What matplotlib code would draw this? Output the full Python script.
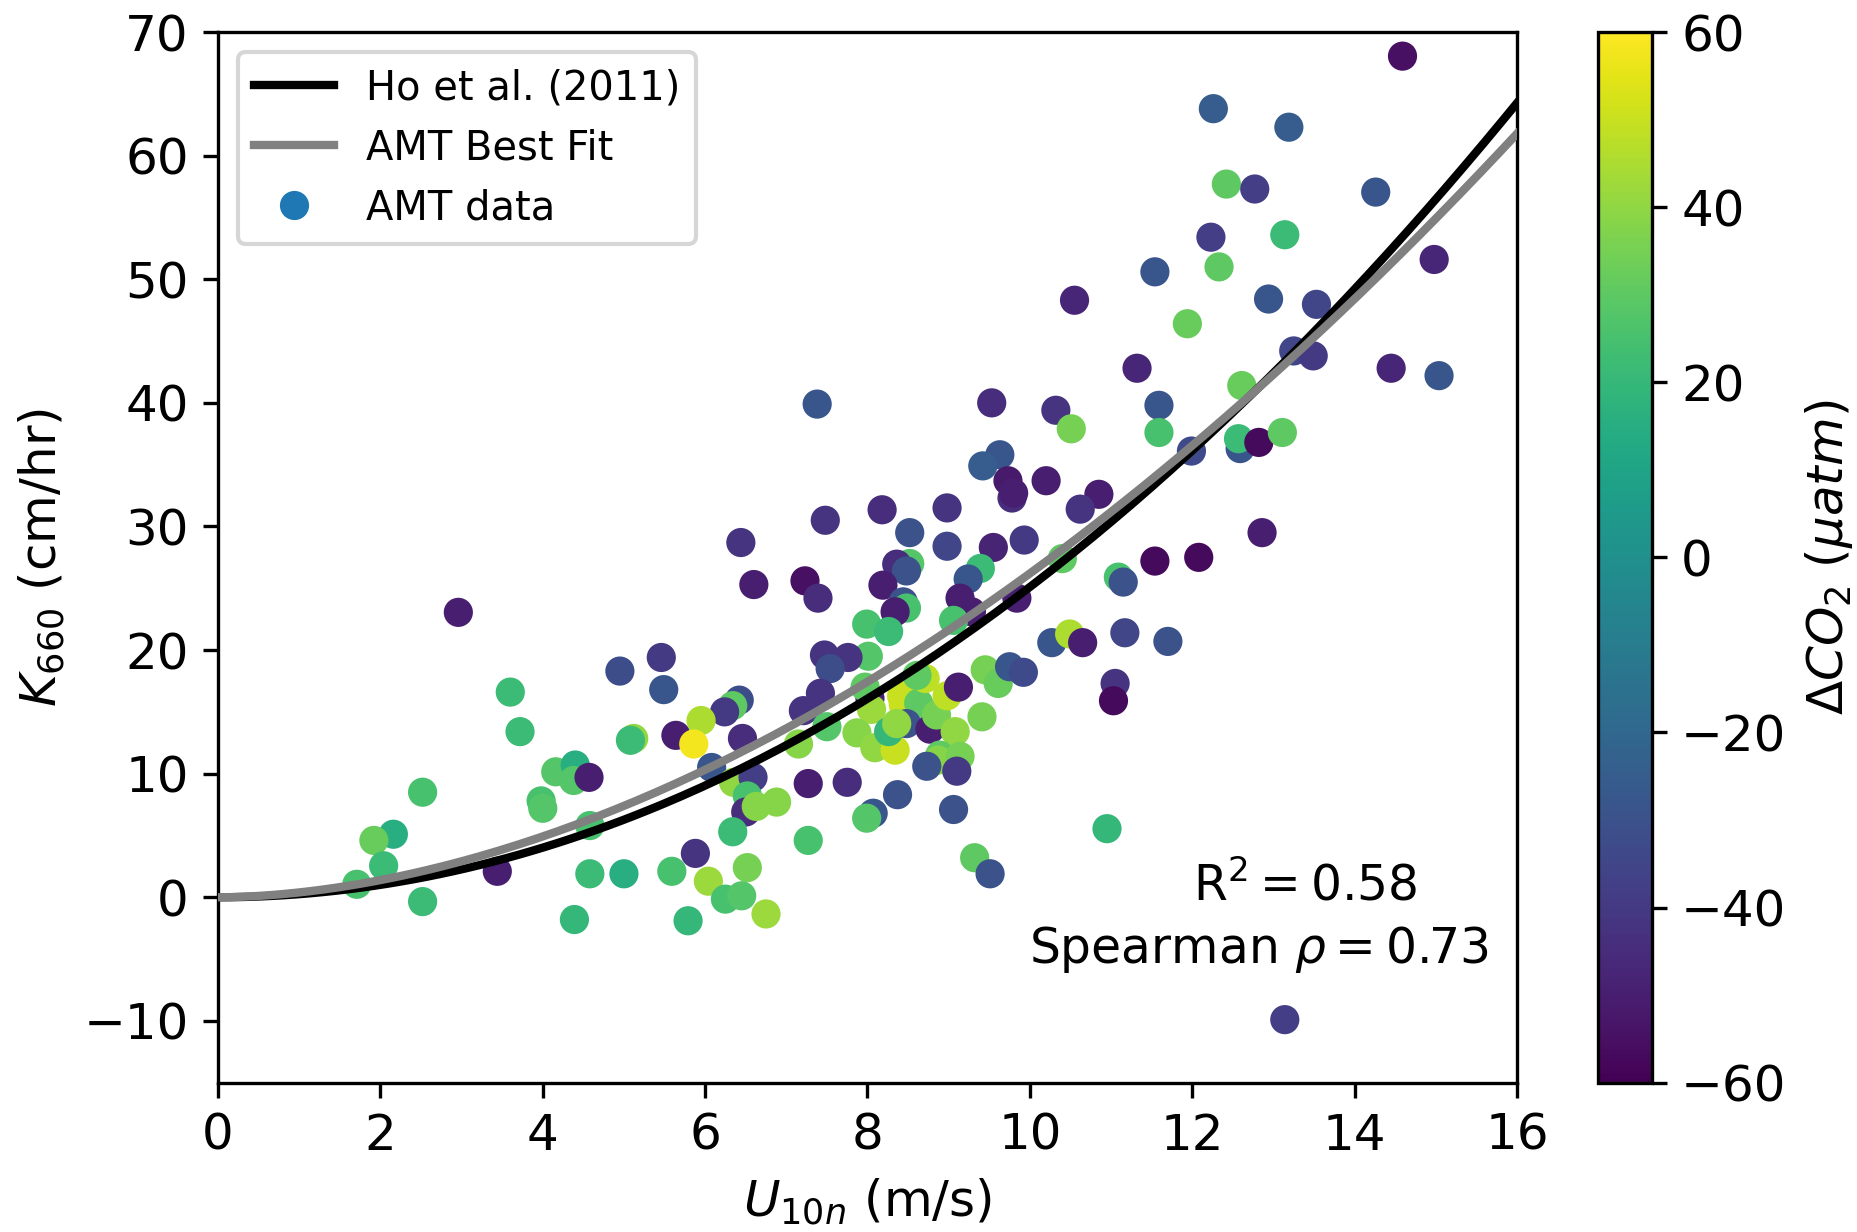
import numpy as np
import matplotlib
matplotlib.use('Agg')
import matplotlib.pyplot as plt
from matplotlib.lines import Line2D

plt.rcParams['font.size'] = 12

# AMT observations: wind speed (m/s), transfer velocity (cm/hr), delta CO2 (uatm)
u10 = [14.59, 12.26, 13.19, 12.42, 12.77, 14.26, 12.23, 13.14, 12.33, 14.98,
       12.94, 13.53, 11.94, 13.25, 13.49, 14.45, 15.04, 12.61, 11.99, 12.59,
       12.57, 12.82, 13.11, 12.86, 12.08, 11.54, 10.55, 11.32, 9.53, 10.32,
       10.51, 11.59, 11.59, 9.63, 9.42, 9.73, 10.20, 9.78, 9.80, 10.85,
       10.62, 8.18, 8.98, 8.52, 8.98, 9.55, 9.93, 11.54, 8.52, 8.36,
       8.48, 8.19, 9.39, 9.24, 8.44, 8.48, 8.34, 7.99, 8.26, 9.14,
       9.28, 9.06, 9.84, 8.01, 8.03, 8.05, 7.87, 8.09, 8.34, 8.26,
       8.42, 8.44, 8.63, 8.71, 8.61, 8.48, 8.36, 8.77, 8.85, 8.98,
       9.12, 9.08, 8.89, 8.87, 9.14, 8.73, 9.10, 9.45, 9.61, 9.41,
       9.75, 9.92, 10.27, 10.49, 10.65, 11.17, 11.70, 11.09, 11.15, 11.05,
       11.03, 10.40, 8.37, 8.07, 7.99, 9.06, 10.95, 9.32, 9.51, 6.44,
       6.60, 7.23, 7.39, 7.47, 7.76, 7.54, 7.42, 7.21, 7.97, 4.95,
       5.46, 5.49, 6.42, 6.34, 6.24, 5.95, 5.12, 5.08, 5.64, 5.86,
       6.46, 6.08, 6.35, 6.59, 6.52, 6.50, 6.63, 6.88, 7.50, 7.15,
       7.27, 7.75, 7.27, 6.34, 5.88, 4.58, 5.00, 5.59, 6.04, 6.52,
       6.25, 6.45, 6.75, 4.39, 5.79, 4.16, 4.40, 4.38, 4.57, 3.98,
       4.00, 4.58, 2.96, 3.60, 3.72, 2.52, 2.16, 1.92, 2.04, 3.44,
       1.71, 2.52, 13.14, 7.38, 7.48]
k660 = [68.05, 63.8, 62.3, 57.7, 57.3, 57.05, 53.4, 53.6, 51.0, 51.6,
        48.4, 47.97, 46.4, 44.2, 43.8, 42.8, 42.2, 41.4, 36.1, 36.3,
        37.1, 36.8, 37.6, 29.5, 27.5, 50.6, 48.3, 42.8, 40.0, 39.4,
        37.9, 39.8, 37.6, 35.8, 34.9, 33.7, 33.7, 32.3, 32.7, 32.6,
        31.4, 31.35, 31.5, 29.5, 28.4, 28.3, 28.9, 27.2, 27.0, 26.95,
        26.4, 25.25, 26.6, 25.75, 23.9, 23.4, 23.1, 22.1, 21.5, 24.2,
        23.1, 22.4, 24.2, 19.5, 16.1, 15.2, 13.3, 12.1, 11.9, 13.4,
        16.3, 15.6, 15.7, 17.7, 17.95, 14.05, 14.05, 13.6, 14.75, 16.3,
        17.0, 13.4, 11.5, 11.1, 11.4, 10.6, 10.2, 18.4, 17.3, 14.6,
        18.65, 18.2, 20.6, 21.3, 20.6, 21.4, 20.7, 25.9, 25.5, 17.3,
        15.9, 27.4, 8.3, 6.8, 6.4, 7.1, 5.55, 3.2, 1.9, 28.7,
        25.3, 25.6, 24.2, 19.6, 19.4, 18.5, 16.5, 15.1, 17.0, 18.3,
        19.4, 16.8, 15.95, 15.5, 15.0, 14.3, 12.85, 12.7, 13.1, 12.4,
        12.85, 10.5, 9.3, 9.7, 8.2, 6.9, 7.35, 7.7, 13.8, 12.4,
        9.2, 9.3, 4.6, 5.3, 3.55, 1.9, 1.9, 2.1, 1.3, 2.4,
        -0.15, 0.12, -1.35, -1.8, -1.9, 10.15, 10.7, 9.45, 9.7, 7.8,
        7.2, 5.8, 23.05, 16.6, 13.4, 8.5, 5.1, 4.6, 2.55, 2.1,
        1.05, -0.35, -9.9, 39.9, 30.5]
dco2 = [-55, -25, -25, 30, -38, -28, -38, 22, 30, -47,
        -28, -35, 32, -35, -40, -47, -28, 32, -33, -28,
        22, -57, 30, -50, -57, -28, -47, -47, -45, -42,
        35, -28, 25, -28, -25, -52, -50, -45, -50, -50,
        -42, -45, -42, -30, -35, -48, -40, -57, 28, -45,
        -30, -50, 22, -28, -30, 25, -50, 25, 22, -50,
        -50, 25, -50, 28, -50, 42, 38, 40, 50, 20,
        50, 50, 30, 48, 30, -30, 40, -50, 35, 48,
        -50, 40, 30, 38, 35, -30, -40, 35, 32, 35,
        -28, -33, -28, 45, -50, -35, -30, 25, -30, -42,
        -57, 30, -30, -28, 28, -30, 20, 30, -30, -42,
        -50, -55, -45, -42, -42, -32, -42, -42, 30, -32,
        -40, -28, -32, 30, -40, 45, 40, 22, -50, 58,
        -45, -28, 40, -38, 25, -45, 38, 38, 28, 38,
        -50, -45, 25, 22, -42, 22, 15, 25, 42, 35,
        25, 28, 42, 20, 20, 28, 15, 28, -50, 25,
        28, 25, -50, 22, 22, 25, 15, 32, 22, -50,
        25, 22, -38, -28, -42]

# fit coefficients
HO_A = 0.251            # k = a * U^2
FIT_A, FIT_N = 0.392, 1.825   # k = a * U^n

ticks_x = [0, 2, 4, 6, 8, 10, 12, 14, 16]
ticks_y = [-10, 0, 10, 20, 30, 40, 50, 60, 70]
cbar_ticks = [-60, -40, -20, 0, 20, 40, 60]

fig = plt.figure(figsize=(1857 / 300, 1232 / 300), dpi=300)
ax = fig.add_axes([0.1174, 0.1212, 0.6995, 0.8528])
cax = fig.add_axes([0.8605, 0.1212, 0.0291, 0.8528])

u = np.linspace(0, 16, 200)
ax.plot(u, HO_A * u ** 2, color='black', lw=2, zorder=3)
ax.plot(u, FIT_A * u ** FIT_N, color='grey', lw=2, zorder=3)
sc = ax.scatter(u10, k660, c=dco2, cmap='viridis', vmin=-60, vmax=60, s=36, zorder=2)

handles = [Line2D([], [], color='black', lw=2),
           Line2D([], [], color='grey', lw=2),
           Line2D([], [], ls='none', marker='o', color='C0', markersize=6)]
ax.legend(handles, ['Ho et al. (2011)', 'AMT Best Fit', 'AMT data'],
          loc='upper left', fontsize=9.6)

ax.text(13.39, 0.9, r'R$^2 = 0.58$', ha='center', va='center', fontsize=11.7)
ax.text(12.82, -4.2, r'Spearman $\rho = 0.73$', ha='center', va='center', fontsize=11.7)

ax.set_xlim(0, 16)
ax.set_ylim(-15, 70)
ax.set_xticks(ticks_x)
ax.set_yticks(ticks_y)
ax.set_xlabel(r'$U_{10n}$ (m/s)')
ax.set_ylabel(r'$K_{660}$ (cm/hr)')

cbar = fig.colorbar(sc, cax=cax, ticks=cbar_ticks)
cbar.set_label(r'$\Delta CO_2$ ($\mu atm$)')

fig.savefig('out.png', dpi=300)
